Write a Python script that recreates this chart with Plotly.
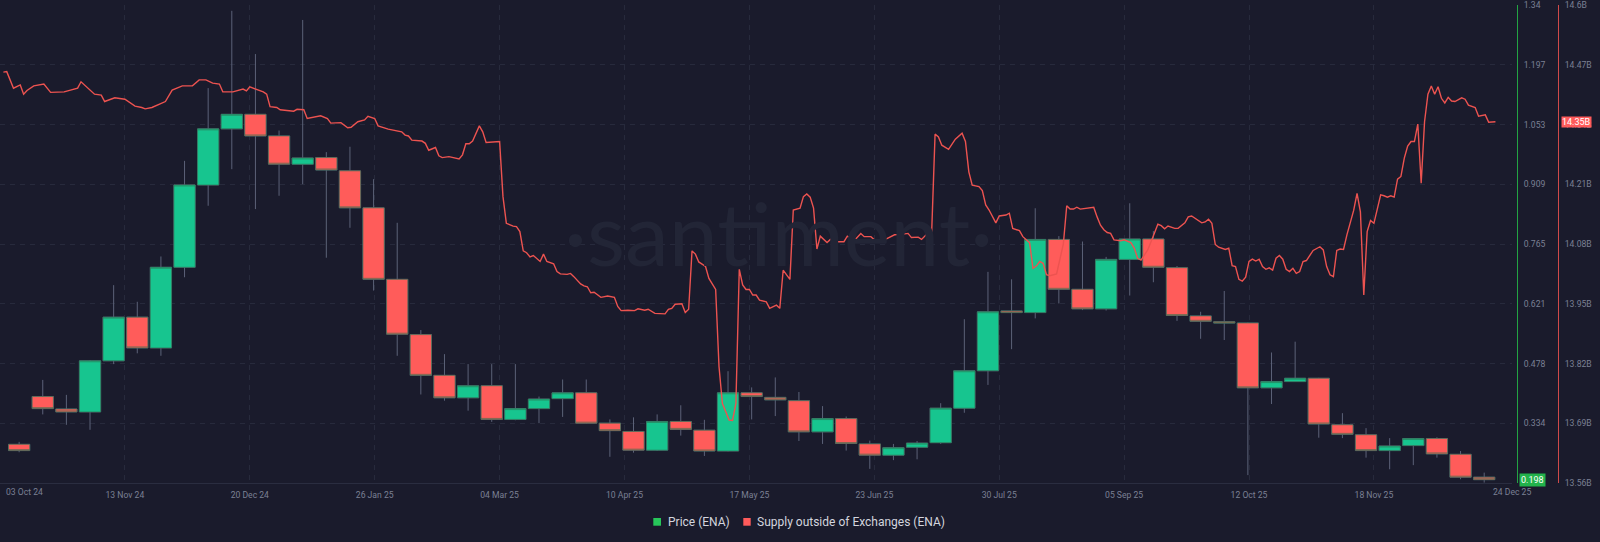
import plotly.graph_objects as go
import pandas as pd

# ---------------- data ----------------
candle_start = "2024-10-12 16:00"   # weekly ENA candles
candle_open = [0.283, 0.398, 0.368, 0.361, 0.484, 0.589, 0.515, 0.709, 0.907, 1.042,
               1.077, 1.025, 0.957, 0.973, 0.941, 0.852, 0.680, 0.547, 0.449, 0.395,
               0.424, 0.343, 0.369, 0.393, 0.407, 0.334, 0.314, 0.269, 0.338, 0.317,
               0.267, 0.407, 0.396, 0.388, 0.313, 0.345, 0.284, 0.257, 0.276, 0.287,
               0.370, 0.460, 0.604, 0.600, 0.776, 0.656, 0.609, 0.728, 0.777, 0.708,
               0.592, 0.578, 0.575, 0.419, 0.434, 0.442, 0.330, 0.306, 0.268, 0.280,
               0.297, 0.259, 0.204]
candle_high = [0.289, 0.438, 0.402, 0.486, 0.666, 0.626, 0.735, 0.965, 1.140, 1.326,
               1.222, 1.038, 1.304, 0.986, 0.999, 0.921, 0.816, 0.558, 0.500, 0.476,
               0.476, 0.476, 0.398, 0.439, 0.439, 0.343, 0.348, 0.355, 0.377, 0.342,
               0.459, 0.420, 0.444, 0.409, 0.375, 0.350, 0.292, 0.284, 0.291, 0.382,
               0.584, 0.698, 0.680, 0.851, 0.784, 0.771, 0.734, 0.863, 0.796, 0.712,
               0.602, 0.652, 0.576, 0.504, 0.530, 0.443, 0.358, 0.322, 0.298, 0.298,
               0.300, 0.267, 0.215]
candle_low = [0.264, 0.355, 0.330, 0.318, 0.476, 0.502, 0.496, 0.685, 0.857, 0.945,
              0.849, 0.881, 0.909, 0.732, 0.804, 0.653, 0.496, 0.403, 0.388, 0.364,
              0.337, 0.341, 0.334, 0.349, 0.333, 0.253, 0.263, 0.267, 0.304, 0.255,
              0.266, 0.343, 0.351, 0.291, 0.284, 0.268, 0.224, 0.245, 0.247, 0.284,
              0.359, 0.426, 0.512, 0.586, 0.622, 0.606, 0.605, 0.641, 0.673, 0.580,
              0.537, 0.534, 0.209, 0.380, 0.433, 0.299, 0.298, 0.251, 0.223, 0.233,
              0.251, 0.199, 0.191]
candle_close = [0.268, 0.369, 0.361, 0.484, 0.589, 0.515, 0.709, 0.907, 1.042, 1.077,
                1.025, 0.957, 0.972, 0.943, 0.852, 0.680, 0.548, 0.449, 0.395, 0.424,
                0.343, 0.369, 0.392, 0.407, 0.334, 0.316, 0.269, 0.338, 0.319, 0.267,
                0.407, 0.398, 0.390, 0.313, 0.345, 0.285, 0.257, 0.275, 0.286, 0.370,
                0.460, 0.602, 0.600, 0.776, 0.656, 0.609, 0.728, 0.777, 0.709, 0.593,
                0.579, 0.575, 0.419, 0.434, 0.442, 0.332, 0.307, 0.268, 0.279, 0.297,
                0.260, 0.204, 0.198]

supply_origin = "2024-10-07"         # day 0 of the supply series
supply_day = [1, 2, 4, 6, 7, 8, 10, 13, 15, 19, 23, 24, 28, 30, 31, 34, 37, 40, 42, 43,
              45, 49, 51, 54, 57, 59, 61, 63, 65, 66, 69, 72, 73, 74, 78, 79, 80, 82, 83, 87,
              88, 90, 91, 95, 97, 98, 101, 103, 104, 106, 108, 109, 111, 112, 115, 117, 119, 120, 121, 122,
              125, 126, 127, 129, 130, 131, 133, 136, 137, 138, 139, 140, 142, 143, 144, 148, 149, 150, 152, 153,
              154, 155, 156, 157, 158, 160, 161, 162, 164, 165, 166, 168, 169, 170, 172, 173, 174, 175, 176, 178,
              180, 182, 183, 184, 186, 188, 189, 191, 192, 194, 197, 198, 199, 200, 202, 203, 204, 205, 206, 207,
              209, 210, 212, 213, 214, 216, 217, 218, 219, 220, 221, 222, 223, 224, 225, 227, 228, 230, 231, 232,
              234, 235, 237, 238, 239, 240, 241, 242, 243, 245, 246, 248, 250, 251, 253, 255, 256, 258, 259, 262,
              265, 267, 269, 270, 272, 273, 275, 276, 277, 278, 279, 281, 283, 285, 286, 287, 288, 290, 291, 292,
              293, 295, 296, 298, 299, 300, 302, 303, 304, 305, 306, 307, 308, 309, 310, 311, 313, 315, 316, 317,
              318, 319, 320, 322, 323, 324, 325, 326, 327, 328, 329, 330, 332, 333, 335, 336, 337, 338, 340, 341,
              342, 343, 344, 345, 346, 348, 349, 351, 352, 353, 355, 356, 357, 358, 359, 360, 361, 363, 364, 365,
              366, 367, 368, 369, 370, 371, 372, 373, 374, 375, 376, 377, 378, 379, 380, 381, 382, 383, 384, 385,
              386, 387, 389, 391, 392, 393, 394, 395, 396, 397, 398, 399, 401, 402, 403, 404, 405, 406, 407, 409,
              410, 411, 412, 413, 414, 415, 416, 417, 418, 419, 420, 421, 422, 423, 424, 425, 426, 427, 428, 429,
              430, 431, 433, 434, 435, 437, 438, 440, 441, 443]
supply_b = [14.454, 14.455, 14.419, 14.426, 14.406, 14.414, 14.424, 14.428, 14.410, 14.411,
            14.419, 14.433, 14.406, 14.404, 14.390, 14.398, 14.395, 14.380, 14.377, 14.374,
            14.377, 14.390, 14.415, 14.424, 14.424, 14.437, 14.437, 14.430, 14.428, 14.411,
            14.411, 14.417, 14.413, 14.422, 14.411, 14.406, 14.379, 14.377, 14.372, 14.369,
            14.373, 14.372, 14.353, 14.359, 14.353, 14.343, 14.344, 14.333, 14.334, 14.346,
            14.350, 14.358, 14.353, 14.337, 14.330, 14.327, 14.324, 14.317, 14.315, 14.306,
            14.304, 14.299, 14.284, 14.290, 14.272, 14.268, 14.270, 14.265, 14.274, 14.298,
            14.298, 14.304, 14.337, 14.324, 14.301, 14.303, 14.183, 14.125, 14.119, 14.118,
            14.107, 14.065, 14.061, 14.052, 14.055, 14.042, 14.058, 14.042, 14.037, 14.020,
            14.015, 14.014, 14.016, 14.009, 13.993, 13.989, 13.987, 13.974, 13.975, 13.964,
            13.967, 13.964, 13.944, 13.935, 13.936, 13.935, 13.939, 13.936, 13.938, 13.929,
            13.928, 13.938, 13.940, 13.949, 13.950, 13.931, 13.938, 14.065, 14.058, 14.041,
            14.031, 14.005, 13.981, 13.813, 13.733, 13.697, 13.696, 13.733, 14.025, 13.991,
            13.981, 13.981, 13.969, 13.969, 13.958, 13.954, 13.940, 13.947, 13.940, 14.023,
            14.003, 14.154, 14.158, 14.183, 14.189, 14.182, 14.158, 14.069, 14.097, 14.083,
            14.090, 14.085, 14.085, 14.097, 14.087, 14.103, 14.096, 14.096, 14.089, 14.089,
            14.100, 14.101, 14.103, 14.094, 14.095, 14.090, 14.105, 14.107, 14.319, 14.313,
            14.295, 14.286, 14.308, 14.321, 14.303, 14.237, 14.208, 14.205, 14.196, 14.165,
            14.154, 14.126, 14.141, 14.143, 14.147, 14.114, 14.109, 14.096, 14.089, 14.083,
            14.027, 14.032, 14.042, 14.038, 14.013, 14.011, 14.015, 14.080, 14.163, 14.156,
            14.156, 14.160, 14.156, 14.158, 14.158, 14.160, 14.139, 14.121, 14.111, 14.105,
            14.103, 14.089, 14.087, 14.089, 14.083, 14.071, 14.049, 14.045, 14.067, 14.084,
            14.104, 14.123, 14.120, 14.113, 14.119, 14.114, 14.114, 14.126, 14.139, 14.141,
            14.132, 14.126, 14.128, 14.134, 14.125, 14.079, 14.073, 14.068, 14.071, 14.033,
            14.031, 14.003, 13.999, 14.008, 14.042, 14.047, 14.043, 14.047, 14.031, 14.025,
            14.028, 14.023, 14.049, 14.055, 14.047, 14.025, 14.020, 14.027, 14.016, 14.020,
            14.042, 14.044, 14.066, 14.074, 14.067, 14.031, 14.013, 14.009, 14.066, 14.069,
            14.068, 14.100, 14.153, 14.190, 14.150, 13.969, 14.107, 14.131, 14.125, 14.187,
            14.185, 14.182, 14.185, 14.182, 14.221, 14.227, 14.267, 14.293, 14.303, 14.303,
            14.341, 14.212, 14.346, 14.406, 14.424, 14.406, 14.422, 14.397, 14.387, 14.399,
            14.391, 14.390, 14.398, 14.395, 14.382, 14.377, 14.358, 14.361, 14.345, 14.346]

x_tick_dates = ["2024-11-13", "2024-12-20", "2025-01-26", "2025-03-04", "2025-04-10",
                "2025-05-17", "2025-06-23", "2025-07-30", "2025-09-05", "2025-10-12",
                "2025-11-18"]
x_tick_text = ["13 Nov 24", "20 Dec 24", "26 Jan 25", "04 Mar 25", "10 Apr 25",
               "17 May 25", "23 Jun 25", "30 Jul 25", "05 Sep 25", "12 Oct 25",
               "18 Nov 25"]
x_first_label = "03 Oct 24"
x_last_label = "24 Dec 25"

price_ticks = [0.19, 0.33375, 0.4775, 0.62125, 0.765, 0.90875, 1.0525, 1.19625, 1.34]
price_tick_text = ["0.19", "0.334", "0.478", "0.621", "0.765", "0.909", "1.053", "1.197", "1.34"]
supply_ticks = [13.56, 13.69, 13.82, 13.95, 14.08, 14.21, 14.34, 14.47, 14.6]
supply_tick_text = ["13.56B", "13.69B", "13.82B", "13.95B", "14.08B", "14.21B", "14.34B", "14.47B", "14.6B"]

price_name = "Price (ENA)"
supply_name = "Supply outside of Exchanges (ENA)"

# ---------------- styling ----------------
W, H = 1600, 542
BG = "#1a1b2c"
GRID = "#272a3c"
TICK = "#7b8094"
GREEN = "#17c58f"
RED = "#ff5c5a"
BORDER = "#2e7250"
WICK = "#5c6278"
LINE_RED = "#ec5350"
FONT = "Roboto"

candle_dates = pd.date_range(candle_start, periods=len(candle_open), freq="7D")
supply_dates = pd.Timestamp(supply_origin) + pd.to_timedelta(supply_day, unit="D")
body_high = [max(o, c) for o, c in zip(candle_open, candle_close)]
body_low = [min(o, c) for o, c in zip(candle_open, candle_close)]

fig = go.Figure()

# wicks
fig.add_trace(go.Candlestick(
    x=candle_dates, open=candle_open, high=candle_high, low=candle_low, close=candle_close,
    increasing=dict(line=dict(color=WICK, width=1), fillcolor="rgba(0,0,0,0)"),
    decreasing=dict(line=dict(color=WICK, width=1), fillcolor="rgba(0,0,0,0)"),
    whiskerwidth=0, showlegend=False, hoverinfo="skip", name=price_name,
))
# bodies
fig.add_trace(go.Candlestick(
    x=candle_dates, open=candle_open, high=body_high, low=body_low, close=candle_close,
    increasing=dict(line=dict(color=BORDER, width=0.6), fillcolor=GREEN),
    decreasing=dict(line=dict(color=BORDER, width=0.6), fillcolor=RED),
    whiskerwidth=0, showlegend=False, name=price_name,
))
# supply line
fig.add_trace(go.Scatter(
    x=supply_dates, y=supply_b, yaxis="y2", mode="lines",
    line=dict(color=LINE_RED, width=1.4), showlegend=False, name=supply_name,
))

plot_left, plot_right, plot_top, plot_bottom = 0, 1512, 5, 483
x0 = pd.Timestamp(supply_origin)
px_per_day = 23.63 / 7
x1 = x0 + pd.Timedelta(days=(plot_right - plot_left) / px_per_day)

def py(pix):
    return (plot_bottom - pix) / (plot_bottom - plot_top)

tickfont = dict(family=FONT, size=8.6, color=TICK)

fig.update_layout(
    width=W, height=H,
    margin=dict(l=0, r=0, t=plot_top, b=H - plot_bottom),
    paper_bgcolor=BG, plot_bgcolor=BG,
    boxgap=0.1, boxgroupgap=0,
    showlegend=False,
    xaxis=dict(
        domain=[0, plot_right / W], type="date", range=[x0, x1],
        tickvals=x_tick_dates, ticktext=x_tick_text, tickfont=tickfont,
        showgrid=True, gridcolor=GRID, griddash="5px,5px", gridwidth=1,
        showline=True, linecolor="#2a2d40", linewidth=1, ticks="",
        ticklabelstandoff=4, zeroline=False, rangeslider=dict(visible=False),
        automargin=False, fixedrange=True, ticklabeloverflow="allow",
    ),
    yaxis=dict(
        range=[price_ticks[0], price_ticks[-1]], anchor="free", position=1517 / W, side="right",
        tickvals=price_ticks, ticktext=price_tick_text, tickfont=tickfont,
        showgrid=True, gridcolor=GRID, griddash="5px,5px", gridwidth=1,
        showline=True, linecolor="#23a443", linewidth=1, ticks="",
        ticklabelstandoff=4, zeroline=False, automargin=False, ticklabeloverflow="allow",
    ),
    yaxis2=dict(
        range=[supply_ticks[0], supply_ticks[-1]], overlaying="y", anchor="free",
        position=1558 / W, side="right",
        tickvals=supply_ticks, ticktext=supply_tick_text, tickfont=tickfont,
        showgrid=False, showline=True, linecolor="#d04a4a", linewidth=1, ticks="",
        ticklabelstandoff=4, zeroline=False, automargin=False, ticklabeloverflow="allow",
    ),
)

annotations = [
    # watermark
    dict(text="·santiment·", xref="paper", yref="paper", x=778 / W, y=py(232),
         xanchor="center", yanchor="middle", showarrow=False,
         font=dict(family="Lato", size=88, color="#222536", weight=400)),
    # edge date labels
    dict(text=x_first_label, xref="paper", yref="paper", x=4 / W, y=py(492),
         xanchor="left", yanchor="middle", showarrow=False, font=tickfont),
    dict(text=x_last_label, xref="paper", yref="paper", x=1512 / W, y=py(492),
         xanchor="center", yanchor="middle", showarrow=False, font=tickfont),
    # current value tags
    dict(text=f"{candle_close[-1]:.3f}", xref="paper", yref="y", x=1519 / W, y=candle_close[-1],
         xanchor="left", yanchor="middle", showarrow=False, bgcolor="#22b24b",
         borderpad=1, font=dict(family=FONT, size=9, color="#ffffff")),
    dict(text=f"{supply_b[-1]:.2f}B", xref="paper", yref="y2", x=1561 / W, y=supply_b[-1],
         xanchor="left", yanchor="middle", showarrow=False, bgcolor="#ff5b5b",
         borderpad=0, font=dict(family=FONT, size=9, color="#ffffff")),
    # legend
    dict(text=price_name, xref="paper", yref="paper", x=665.5 / W, y=py(522),
         xanchor="left", yanchor="middle", showarrow=False,
         font=dict(family=FONT, size=12, color="#d3d5de")),
    dict(text=supply_name, xref="paper", yref="paper", x=755 / W, y=py(522),
         xanchor="left", yanchor="middle", showarrow=False,
         font=dict(family=FONT, size=12, color="#d3d5de")),
]
fig.update_layout(annotations=annotations)

fig.update_layout(shapes=[
    dict(type="rect", xref="paper", yref="paper", x0=653.3 / W, x1=661 / W,
         y0=py(525.7), y1=py(518), fillcolor="#27c65a", line=dict(width=0)),
    dict(type="rect", xref="paper", yref="paper", x0=743.3 / W, x1=750.7 / W,
         y0=py(525.7), y1=py(518), fillcolor="#ff5b5b", line=dict(width=0)),
])

fig.write_html("out.html", config={"displayModeBar": False},
               post_script="document.body.style.margin='0';")
